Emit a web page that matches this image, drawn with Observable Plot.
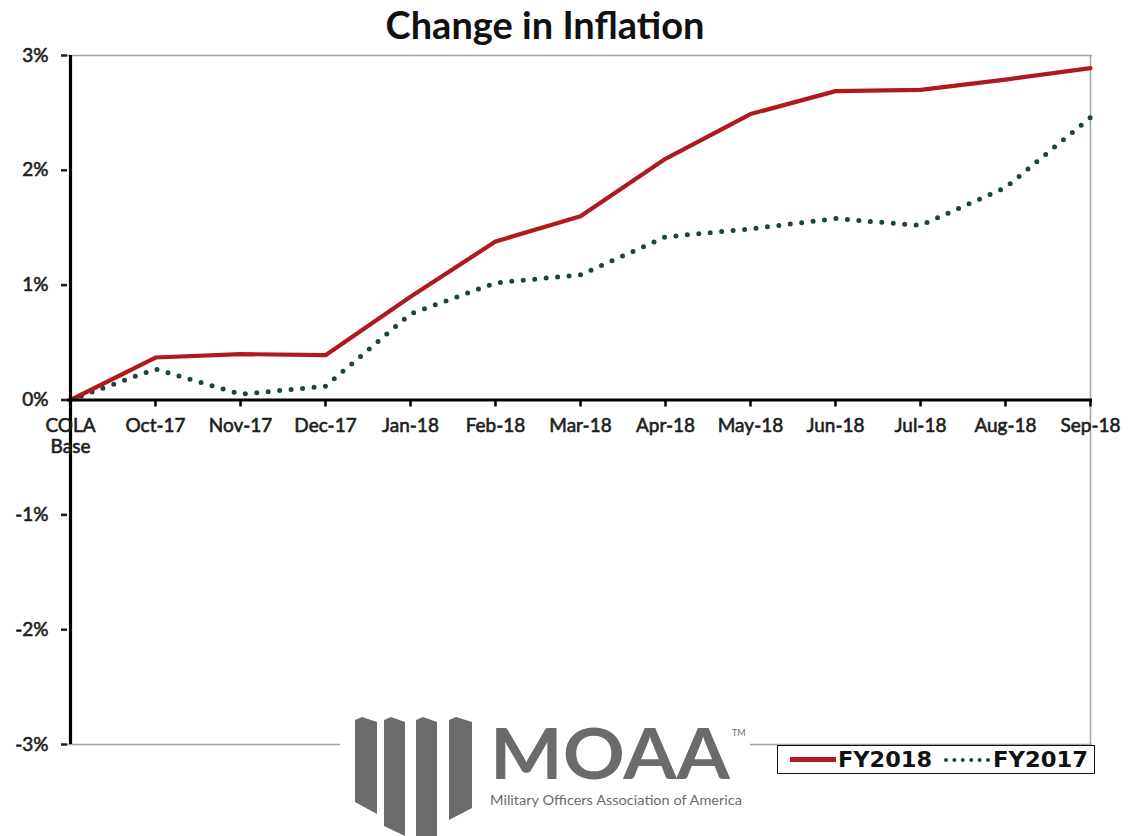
<!DOCTYPE html>
<html>
<head>
<meta charset="utf-8">
<script src="https://cdn.jsdelivr.net/npm/d3@7"></script>
<script src="https://cdn.jsdelivr.net/npm/@observablehq/plot@0.6"></script>
<style>
  html, body { margin: 0; padding: 0; background: #fff; }
  #wrap { position: relative; width: 1130px; height: 836px; overflow: hidden; font-family: Lato, "Open Sans", sans-serif; }
  #title { position: absolute; top: 5px; left: 0; width: 1090px; text-align: center; font: bold 38px/38px Lato, sans-serif; color: #111; }
  #spacer { height: 45px; }
  #legend { position: absolute; left: 777px; top: 745px; width: 318px; height: 29px; border: 1.5px solid #111; background: #fff; box-sizing: border-box; }
  #logo { position: absolute; left: 340px; top: 690px; }
</style>
</head>
<body>
<div id="wrap">
  <div id="title">Change in Inflation</div>
  <div id="spacer"></div>
  <div id="chart"></div>
  <div id="logo"></div>
  <div id="legend"></div>
</div>
<script>
const categories = ["COLA Base","Oct-17","Nov-17","Dec-17","Jan-18","Feb-18","Mar-18","Apr-18","May-18","Jun-18","Jul-18","Aug-18","Sep-18"];
const tickLabels = ["COLA\nBase","Oct-17","Nov-17","Dec-17","Jan-18","Feb-18","Mar-18","Apr-18","May-18","Jun-18","Jul-18","Aug-18","Sep-18"];
const fy2018 = [0, 0.37, 0.40, 0.39, 0.90, 1.38, 1.60, 2.10, 2.49, 2.69, 2.70, 2.79, 2.89];
const fy2017 = [0, 0.27, 0.05, 0.12, 0.75, 1.02, 1.09, 1.42, 1.49, 1.58, 1.52, 1.85, 2.46];
const yTicks = [-3, -2, -1, 0, 1, 2, 3];
const seriesNames = ["FY2018", "FY2017"];

const red = "#b0191f";
const teal = "#1a4542";
const gray = "#a3a3a3";
const ink = "#1e1e1e";

const rows2018 = categories.map((c, i) => ({cat: c, v: fy2018[i]}));
const rows2017 = categories.map((c, i) => ({cat: c, v: fy2017[i]}));

const chart = Plot.plot({
  width: 1130,
  height: 791,
  marginTop: 10,
  marginBottom: 92,
  marginLeft: 67,
  marginRight: 38,
  style: {fontFamily: "Lato, sans-serif", color: ink, background: "#fff", overflow: "visible"},
  x: {type: "point", domain: categories, padding: 0, axis: null},
  y: {domain: [-3, 3], axis: null},
  marks: [
    Plot.ruleY([3], {stroke: gray, strokeWidth: 1.5}),
    Plot.ruleY([-3], {stroke: gray, strokeWidth: 1.5}),
    Plot.ruleX([categories[categories.length - 1]], {stroke: gray, strokeWidth: 1.5}),
    Plot.line(rows2017, {x: "cat", y: "v", stroke: teal, strokeWidth: 5, strokeDasharray: "0 11.5", strokeLinecap: "round"}),
    Plot.line(rows2018, {x: "cat", y: "v", stroke: red, strokeWidth: 4.2, strokeLinejoin: "round"}),
    Plot.ruleY([0], {stroke: "#000", strokeWidth: 3.2}),
    Plot.ruleX([categories[0]], {stroke: "#000", strokeWidth: 3.2}),
    Plot.ruleX(categories, {x: d => d, y1: 0, y2: 0, insetBottom: -7, stroke: "#000", strokeWidth: 2.5}),
    Plot.text(categories, {x: d => d, y: 0, text: (d, i) => tickLabels[i], dy: 16, lineAnchor: "top", lineHeight: 1.15, fontSize: 19, fill: ink, stroke: ink, strokeWidth: 0.6}),
    Plot.axisY({ticks: yTicks, tickFormat: d => `${d}%`, tickSize: 6, tickPadding: 13, fontSize: 19, strokeWidth: 2.5, label: null}),
    Plot.text(yTicks, {y: d => d, text: d => `${d}%`, frameAnchor: "left", dx: -19, textAnchor: "end", fontSize: 19, fill: ink, stroke: ink, strokeWidth: 0.6})
  ]
});
// hide axis text drawn by axisY (replaced by the bolder text mark above)
chart.querySelectorAll('g[aria-label="y-axis tick label"]').forEach(g => g.remove());
document.getElementById("chart").appendChild(chart);

// legend
const ns = "http://www.w3.org/2000/svg";
const leg = document.getElementById("legend");
leg.innerHTML = `
<svg width="316" height="27" xmlns="${ns}" style="display:block">
  <line x1="12" x2="58" y1="13.5" y2="13.5" stroke="${red}" stroke-width="5"/>
  <text x="60" y="21" font-family="'Liberation Sans Narrow','DejaVu Sans Condensed',sans-serif" font-weight="bold" font-size="21" fill="#111" textLength="94" lengthAdjust="spacingAndGlyphs">${seriesNames[0]}</text>
  <line x1="168" x2="210" y1="14" y2="14" stroke="${teal}" stroke-width="4" stroke-dasharray="0 8.4" stroke-linecap="round"/>
  <text x="215" y="21" font-family="'Liberation Sans Narrow','DejaVu Sans Condensed',sans-serif" font-weight="bold" font-size="21" fill="#111" textLength="95" lengthAdjust="spacingAndGlyphs">${seriesNames[1]}</text>
</svg>`;

// logo (decoration)
const logoGray = "#6b6b6d";
const o = 22;
document.getElementById("logo").innerHTML = `
<svg width="415" height="146" xmlns="${ns}" style="display:block">
  <rect x="0" y="${o}" width="410" height="124" fill="#fff"/>
  <g fill="${logoGray}" transform="translate(0,${o})">
    <polygon points="15,8 22,5 37,10 37,102 15,90"/>
    <polygon points="44,8 51,5 65,10 65,124 44,114"/>
    <polygon points="76,8 83,5 97,10 97,124 76,124"/>
    <polygon points="109,8 116,5 132,10 132,96 109,108"/>
  </g>
  <text x="150" y="${o + 67}" font-family="Lato, sans-serif" font-weight="bold" font-size="70" fill="${logoGray}" textLength="240" lengthAdjust="spacingAndGlyphs">MOAA</text>
  <text x="392" y="${o + 24}" font-family="Lato, sans-serif" font-size="9" fill="${logoGray}">TM</text>
  <text x="150" y="${o + 93}" font-family="Lato, sans-serif" font-size="13" fill="${logoGray}" textLength="252" lengthAdjust="spacingAndGlyphs">Military Officers Association of America</text>
</svg>`;
</script>
</body>
</html>
